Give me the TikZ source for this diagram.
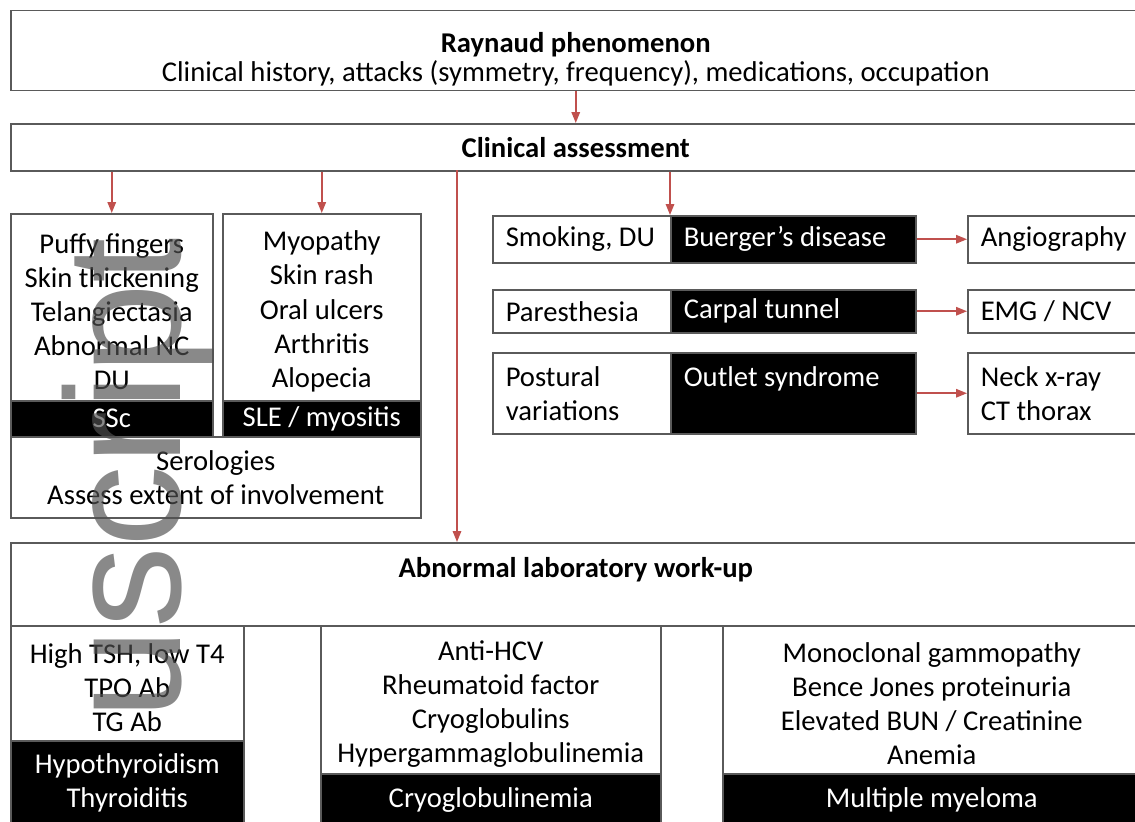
\documentclass[tikz,border=0pt]{standalone}
\usepackage{fontspec}
\setmainfont{Carlito}
\newfontfamily\wmfont{Liberation Sans}
\usetikzlibrary{arrows.meta}
\newdimen\pxu \pxu=0.2mm
\definecolor{arrred}{HTML}{C0504D}
\definecolor{edge}{HTML}{5A5A5A}
\definecolor{wmgray}{HTML}{505050}
\tikzset{
  box/.style={draw=edge, line width=1.5\pxu, fill=white, anchor=north west, inner sep=0pt, align=center,
              font=\fontsize{16.3}{19.4}\selectfont},
  band/.style={box, fill=black, text=white},
  lbox/.style={box, align=flush left, text width=#1, inner xsep=13\pxu},
  lband/.style={lbox=#1, fill=black, text=white},
  arr/.style={arrred, line width=1.6\pxu, -{Triangle[length=2.2mm, width=1.7mm]}}
}
\begin{document}
\begin{tikzpicture}[x=0.2mm, y=-0.2mm]
  \useasboundingbox (0,0) rectangle (1135,821);
  % en-tete
  \node[box, minimum width=1130\pxu, minimum height=80\pxu] (rp) at (10,10)
    {\rule{0pt}{21pt}\textbf{Raynaud phenomenon}\\[-3pt] Clinical history, attacks (symmetry, frequency), medications, occupation};
  \node[box, minimum width=1130\pxu, minimum height=47\pxu] (ca) at (10,123) {\textbf{Clinical assessment}};
  \draw[arr] (rp.south) -- (ca.north);
  % colonne gauche
  \node[box, minimum width=202\pxu, minimum height=187\pxu] (ssc) at (10,213)
    {\rule{0pt}{16pt}Puffy fingers\\ Skin thickening\\ Telangiectasia\\ Abnormal NC\\ DU};
  \node[band, minimum width=202\pxu, minimum height=36\pxu] (sscband) at (10,400) {SSc};
  \node[box, minimum width=198\pxu, minimum height=187\pxu] (sle) at (222,213)
    {\rule{0pt}{16pt}Myopathy\\ Skin rash\\ Oral ulcers\\ Arthritis\\ Alopecia};
  \node[band, minimum width=198\pxu, minimum height=36\pxu] (sleband) at (222,400) {SLE / myositis};
  \node[box, minimum width=410\pxu, minimum height=81\pxu] (sero) at (10,436)
    {Serologies\\ Assess extent of involvement};
  \draw[arr] (ssc.north |- ca.south) -- (ssc.north);
  \draw[arr] (sle.north |- ca.south) -- (sle.north);
  % colonne droite
  \node[lbox=152\pxu, minimum height=47\pxu] (smk) at (492,215) {Smoking, DU};
  \node[lband=219\pxu, minimum height=47\pxu] (bug) at (670,215) {Buerger's disease};
  \node[lbox=147\pxu, minimum height=47\pxu] (ang) at (967,215) {Angiography};
  \node[lbox=152\pxu, minimum height=43\pxu] (par) at (492,289) {Paresthesia};
  \node[lband=219\pxu, minimum height=43\pxu] (ctn) at (670,289) {Carpal tunnel};
  \node[lbox=147\pxu, minimum height=43\pxu] (emg) at (967,289) {EMG / NCV};
  \node[lbox=152\pxu, minimum height=81\pxu] (pos) at (492,352) {Postural\\ variations};
  \node[lband=219\pxu, minimum height=81\pxu] (out) at (670,352) {Outlet syndrome\\ \mbox{}};
  \node[lbox=147\pxu, minimum height=81\pxu] (neck) at (967,352) {Neck x-ray\\ CT thorax};
  \draw[arr] (bug.north west |- ca.south) -- (bug.north west);
  \draw[arr] (bug.east) -- (ang.west);
  \draw[arr] (ctn.east) -- (emg.west);
  \draw[arr] (out.east) -- (neck.west);
  % bilan biologique
  \node[box, minimum width=1130\pxu, minimum height=83\pxu] (lab) at (10,542)
    {\textbf{Abnormal laboratory work-up}\\ \mbox{}};
  \coordinate (drop) at (457,170);
  \draw[arr] (drop) -- (drop |- lab.north);
  \node[box, minimum width=233\pxu, minimum height=115\pxu] (hyp) at (10,625)
    {\rule{0pt}{16pt}High TSH, low T4\\ TPO Ab\\ TG Ab};
  \node[band, minimum width=233\pxu, minimum height=85\pxu] (hypband) at (10,740)
    {Hypothyroidism\\ Thyroiditis};
  \node[box, minimum width=340\pxu, minimum height=148\pxu] (cryo) at (320,625)
    {\rule{0pt}{16pt}Anti-HCV\\ Rheumatoid factor\\ Cryoglobulins\\ Hypergammaglobulinemia};
  \node[band, minimum width=340\pxu, minimum height=52\pxu] (cryoband) at (320,773) {Cryoglobulinemia};
  \node[box, minimum width=418\pxu, minimum height=148\pxu] (mm) at (722,625)
    {\rule{0pt}{16pt}Monoclonal gammopathy\\ Bence Jones proteinuria\\ Elevated BUN / Creatinine\\ Anemia};
  \node[band, minimum width=418\pxu, minimum height=52\pxu] (mmband) at (722,773) {Multiple myeloma};
  % filigrane
  \node[rotate=90, anchor=base west, inner sep=0pt, text=wmgray, opacity=0.67,
        font=\wmfont\fontsize{93}{93}\selectfont] (wm) at (180,720) {uscript};
\end{tikzpicture}
\end{document}
